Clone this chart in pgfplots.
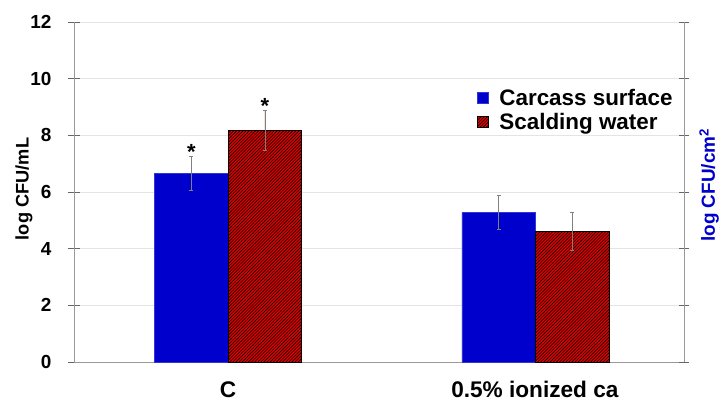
\documentclass[border=0pt]{standalone}
\usepackage{fontspec}
\setmainfont{Liberation Sans}
\usepackage{pgfplots}
\pgfplotsset{compat=1.18}
\usetikzlibrary{patterns.meta}
\definecolor{barblue}{RGB}{0,0,204}
\definecolor{barred}{RGB}{225,0,0}
\definecolor{gridc}{RGB}{228,228,228}
\begin{document}
\begin{tikzpicture}
\begin{axis}[
 scale only axis, width=610bp, height=340bp,
 xmin=0, xmax=2, ymin=0, ymax=12,
 axis lines=left, axis line style={-, draw=gray!80, line width=0.6bp},
 ytick={0,2,...,12},
 ymajorgrids, grid style={gridc, line width=0.6bp},
 xtick={0.505,1.511}, xticklabels={C,0.5\% ionized ca},
 x tick style={draw=none},
 y tick style={draw=black!60, line width=0.6bp},
 tick align=center, major tick length=12bp,
 /pgf/number format/assume math mode=true,
 yticklabel style={font=\fontsize{19}{21}\selectfont\bfseries, xshift=-13bp},
 xticklabel style={font=\fontsize{22.7}{26}\selectfont\bfseries, yshift=-10bp},
 ylabel={log CFU/mL},
 ylabel style={font=\fontsize{18.3}{20}\selectfont\bfseries, at={(axis description cs:-0.082,0.509)}, anchor=center},
 legend style={draw=none, fill=none, at={(axis description cs:0.66,0.81)}, anchor=north west, font=\fontsize{22.5}{26}\selectfont\bfseries, row sep=2.5bp, inner sep=0pt, cells={anchor=west}},
 legend image code/.code={\draw[#1] (0bp,-5.5bp) rectangle (11bp,5.5bp); \path (20bp,0bp);},
 clip=false,
]
\addplot[ybar, bar width=0.241, bar shift=0pt, fill=barblue, draw=barblue!80!white,
  error bars/.cd, y dir=both, y explicit,
  error bar style={draw=gray, line width=0.5bp},
  error mark options={rotate=90, mark size=2bp, draw=gray}]
  coordinates {(0.385,6.65) +- (0,0.6) (1.392,5.27) +- (0,0.6)};
\addlegendentry{Carcass surface}
\addplot[ybar, bar width=0.241, bar shift=0pt, fill=barred, draw=black, line width=0.6bp,
  postaction={pattern={Lines[angle=45,distance=2.2bp,line width=0.6bp]}, pattern color=black},
  error bars/.cd, y dir=both, y explicit,
  error bar style={draw=gray, line width=0.5bp},
  error mark options={rotate=90, mark size=2bp, draw=gray}]
  coordinates {(0.626,8.17) +- (0,0.7) (1.633,4.62) +- (0,0.68)};
\addlegendentry{Scalding water}
\addplot[draw=none, mark=none, forget plot,
  nodes near coords={\textbf{*}}, nodes near coords align={center},
  every node near coord/.append style={font=\fontsize{22}{24}\selectfont\bfseries}]
  coordinates {(0.385,7.4) (0.626,9.02)};
\end{axis}
\begin{axis}[
 scale only axis, width=610bp, height=340bp,
 xmin=0, xmax=2, ymin=0, ymax=12,
 axis y line=right, axis x line=none,
 axis line style={-, draw=gray!80, line width=0.6bp},
 ytick={0,2,...,12}, yticklabels={},
 y tick style={draw=black!60, line width=0.6bp},
 tick align=center, major tick length=10bp,
 ylabel={log CFU/cm\textsuperscript{2}},
 ylabel style={font=\fontsize{19}{21}\selectfont\bfseries, color=barblue, at={(axis description cs:1.041,0.52)}, anchor=center},
]
\end{axis}
\pgfresetboundingbox
\path[use as bounding box] (-74bp,-43bp) rectangle (651bp,362bp);
\end{tikzpicture}
\end{document}
